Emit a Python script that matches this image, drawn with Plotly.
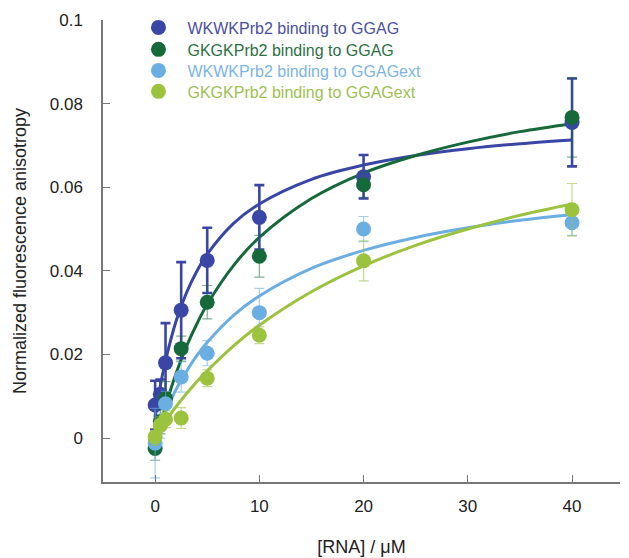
import plotly.graph_objects as go

# ---- data ----
conc = [0, 0.5, 1, 2.5, 5, 10, 20, 40]

wk_ggag = [0.0079, 0.0105, 0.0180, 0.0306, 0.0425, 0.0528, 0.0625, 0.0755]
wk_ggag_err = [0.0058, 0.0035, 0.0095, 0.0115, 0.0078, 0.0077, 0.0052, 0.0105]

gk_ggag = [-0.0025, 0.0040, 0.0095, 0.0214, 0.0325, 0.0435, 0.0606, 0.0767]
gk_ggag_err = [0.0028, 0.0030, 0.0040, 0.0030, 0.0040, 0.0050, 0.0030, 0.0095]

wk_ext = [-0.0012, 0.0030, 0.0082, 0.0146, 0.0203, 0.0300, 0.0500, 0.0515]
wk_ext_err = [0.0083, 0.0030, 0.0030, 0.0036, 0.0030, 0.0058, 0.0030, 0.0030]

gk_ext = [0.0003, 0.0031, 0.0045, 0.0048, 0.0143, 0.0246, 0.0424, 0.0546]
gk_ext_err = [0.0020, 0.0020, 0.0020, 0.0025, 0.0020, 0.0020, 0.0048, 0.0063]

# fitted curves, values
fit_x = [0, 0.5, 1, 2, 3, 4, 5, 7.5, 10, 15, 20, 25, 30, 35, 40]
fit_wk_ggag = [0.0050, 0.0125, 0.0185, 0.0279, 0.0347, 0.0399, 0.0440, 0.0513, 0.0560,
               0.0619, 0.0653, 0.0676, 0.0692, 0.0704, 0.0713]
fit_gk_ggag = [-0.0020, 0.0030, 0.0076, 0.0154, 0.0219, 0.0273, 0.0320, 0.0412, 0.0480,
               0.0573, 0.0634, 0.0676, 0.0708, 0.0733, 0.0752]
fit_wk_ext = [0.0000, 0.0033, 0.0063, 0.0116, 0.0159, 0.0197, 0.0229, 0.0293, 0.0340,
              0.0406, 0.0449, 0.0480, 0.0503, 0.0521, 0.0535]
fit_gk_ext = [0.0005, 0.0024, 0.0041, 0.0075, 0.0106, 0.0135, 0.0161, 0.0220, 0.0270,
              0.0350, 0.0412, 0.0461, 0.0500, 0.0533, 0.0560]

names = ["WKWKPrb2 binding to GGAG", "GKGKPrb2 binding to GGAG",
         "WKWKPrb2 binding to GGAGext", "GKGKPrb2 binding to GGAGext"]

x_ticks = [0, 10, 20, 30, 40]
y_ticks = [0, 0.02, 0.04, 0.06, 0.08, 0.1]
y_tick_text = ["0", "0.02", "0.04", "0.06", "0.08", "0.1"]

# ---- styling ----
colors = ["#3a46a6", "#16693a", "#6aaee2", "#9cc33e"]
text_colors = ["#4a4fa2", "#2b7044", "#7bb5e2", "#9dbf52"]
err_colors = ["#3a46a6", "rgba(22,105,58,0.55)", "rgba(106,174,226,0.6)", "rgba(156,195,62,0.6)"]
err_widths = [2.6, 1.2, 1.2, 1.2]

series = [
    (wk_ggag, wk_ggag_err, fit_wk_ggag),
    (gk_ggag, gk_ggag_err, fit_gk_ggag),
    (wk_ext, wk_ext_err, fit_wk_ext),
    (gk_ext, gk_ext_err, fit_gk_ext),
]

FONT = "Liberation Sans, Arial, sans-serif"
legend_ids = ["legend", "legend2", "legend3", "legend4"]
legend_y = [1.0206, 0.9730, 0.9275, 0.8821]

fig = go.Figure()

# curves
for i, (_, _, fit) in enumerate(series):
    fig.add_trace(go.Scatter(
        x=fit_x, y=fit, mode="lines", line=dict(color=colors[i], width=3, shape="spline"),
        showlegend=False, hoverinfo="skip"))

# data points with error bars
for i, (vals, errs, _) in enumerate(series):
    fig.add_trace(go.Scatter(
        x=conc, y=vals, mode="markers",
        name=f"<span style='color:{text_colors[i]}'>{names[i]}</span>",
        legend=legend_ids[i],
        marker=dict(color=colors[i], size=15, line=dict(width=0)),
        error_y=dict(type="data", array=errs, visible=True, color=err_colors[i],
                     thickness=err_widths[i], width=5),
    ))

legend_common = dict(x=0.0512, xanchor="left", yanchor="top",
                     bgcolor="rgba(0,0,0,0)", font=dict(size=16, family=FONT),
                     itemwidth=48)

# page body has an 8px margin, so the figure is sized to fill the rest of the window
fig.update_layout(
    width=621, height=550,
    margin=dict(l=95, r=9, t=12, b=76, autoexpand=False),
    paper_bgcolor="white", plot_bgcolor="white",
    font=dict(family=FONT, size=17, color="#222"),
    showlegend=True,
    legend=dict(y=legend_y[0], **legend_common),
    legend2=dict(y=legend_y[1], **legend_common),
    legend3=dict(y=legend_y[2], **legend_common),
    legend4=dict(y=legend_y[3], **legend_common),
    xaxis=dict(range=[-5, 44.6], tickvals=x_ticks, ticktext=[str(v) for v in x_ticks],
               ticks="inside", ticklen=7, tickcolor="#777", tickwidth=1.2,
               showline=True, linecolor="#777", linewidth=1.5, showgrid=False, zeroline=False,
               automargin=False, ticklabelstandoff=8,
               tickfont=dict(size=17, family=FONT, color="#222"),
               title=dict(text="[RNA] / μM", font=dict(size=18, family=FONT, color="#222"),
                          standoff=25)),
    yaxis=dict(range=[-0.0105, 0.1], tickvals=y_ticks, ticktext=y_tick_text,
               ticks="inside", ticklen=7, tickcolor="#777", tickwidth=1.2,
               showline=True, linecolor="#777", linewidth=1.5, showgrid=False, zeroline=False,
               automargin=False, ticklabelstandoff=15,
               tickfont=dict(size=17, family=FONT, color="#222"),
               title=dict(text="Normalized fluorescence anisotropy",
                          font=dict(size=18, family=FONT, color="#222"), standoff=18)),
)

fig.write_html("out.html")
